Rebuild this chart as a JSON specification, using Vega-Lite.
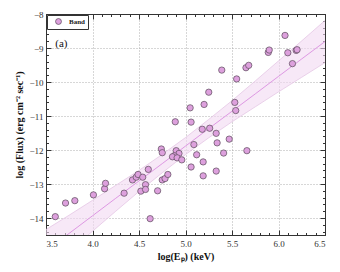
{
  "$schema": "https://vega.github.io/schema/vega-lite/v6.json",
  "width": 279,
  "height": 221,
  "autosize": {"type": "none"},
  "padding": {"left": 46, "top": 14, "right": 15, "bottom": 37},
  "config": {
    "view": {"stroke": "#333", "strokeWidth": 1},
    "font": "Liberation Serif",
    "axis": {
      "labelFont": "Liberation Serif",
      "titleFont": "Liberation Serif",
      "labelFontSize": 9,
      "titleFontSize": 10,
      "labelColor": "#333",
      "titleColor": "#111",
      "tickColor": "#333",
      "domainColor": "#333"
    }
  },
  "datasets": {
    "pts": [
      {"x": 3.60, "y": -13.96}, {"x": 3.71, "y": -13.56}, {"x": 3.81, "y": -13.49},
      {"x": 4.01, "y": -13.32}, {"x": 4.13, "y": -13.14}, {"x": 4.14, "y": -12.98},
      {"x": 4.34, "y": -13.27}, {"x": 4.43, "y": -12.88}, {"x": 4.47, "y": -12.80},
      {"x": 4.49, "y": -12.72}, {"x": 4.54, "y": -12.80}, {"x": 4.52, "y": -13.21},
      {"x": 4.57, "y": -13.02}, {"x": 4.57, "y": -13.16}, {"x": 4.60, "y": -12.57},
      {"x": 4.62, "y": -14.02}, {"x": 4.70, "y": -13.20}, {"x": 4.74, "y": -11.97},
      {"x": 4.75, "y": -12.08}, {"x": 4.75, "y": -12.88}, {"x": 4.78, "y": -12.84},
      {"x": 4.81, "y": -12.72}, {"x": 4.90, "y": -12.02}, {"x": 4.93, "y": -12.10},
      {"x": 4.88, "y": -12.17}, {"x": 4.86, "y": -12.20}, {"x": 4.91, "y": -12.23},
      {"x": 4.96, "y": -12.29}, {"x": 4.89, "y": -11.17}, {"x": 5.06, "y": -11.18},
      {"x": 5.18, "y": -11.39}, {"x": 5.26, "y": -11.36}, {"x": 5.33, "y": -11.51},
      {"x": 5.09, "y": -11.84}, {"x": 5.34, "y": -11.79}, {"x": 5.47, "y": -11.68},
      {"x": 5.12, "y": -12.14}, {"x": 5.41, "y": -12.09}, {"x": 5.66, "y": -12.02},
      {"x": 5.19, "y": -12.35}, {"x": 5.33, "y": -12.62}, {"x": 5.19, "y": -12.76},
      {"x": 5.06, "y": -12.50}, {"x": 5.05, "y": -10.76}, {"x": 5.20, "y": -10.66},
      {"x": 5.25, "y": -10.30}, {"x": 5.39, "y": -9.65}, {"x": 5.55, "y": -9.91},
      {"x": 5.53, "y": -10.60}, {"x": 5.54, "y": -10.84}, {"x": 5.65, "y": -9.58},
      {"x": 5.68, "y": -9.51}, {"x": 5.89, "y": -9.13}, {"x": 5.90, "y": -9.06},
      {"x": 6.07, "y": -8.63}, {"x": 6.10, "y": -9.14}, {"x": 6.19, "y": -9.07},
      {"x": 6.20, "y": -9.05}, {"x": 6.15, "y": -9.46}
    ],
    "fit": [
      {"x": 3.5, "y": -14.96, "lo": -15.58, "hi": -14.34},
      {"x": 3.75, "y": -14.45, "lo": -14.985, "hi": -13.915},
      {"x": 4.0, "y": -13.935, "lo": -14.39, "hi": -13.48},
      {"x": 4.25, "y": -13.42, "lo": -13.80, "hi": -13.04},
      {"x": 4.5, "y": -12.91, "lo": -13.22, "hi": -12.60},
      {"x": 4.75, "y": -12.40, "lo": -12.67, "hi": -12.13},
      {"x": 5.0, "y": -11.885, "lo": -12.135, "hi": -11.635},
      {"x": 5.25, "y": -11.37, "lo": -11.64, "hi": -11.10},
      {"x": 5.5, "y": -10.86, "lo": -11.17, "hi": -10.55},
      {"x": 5.75, "y": -10.35, "lo": -10.73, "hi": -9.97},
      {"x": 6.0, "y": -9.835, "lo": -10.29, "hi": -9.38},
      {"x": 6.25, "y": -9.32, "lo": -9.86, "hi": -8.79},
      {"x": 6.5, "y": -8.81, "lo": -9.43, "hi": -8.19}
    ]
  },
  "layer": [
    {
      "data": {"name": "fit"},
      "mark": {"type": "area", "color": "#f2d8f2", "opacity": 0.6, "clip": true},
      "encoding": {
        "x": {
          "field": "x", "type": "quantitative",
          "scale": {"domain": [3.5, 6.5], "nice": false, "zero": false},
          "axis": {
            "orient": "bottom", "values": [3.5, 4, 4.5, 5, 5.5, 6, 6.5], "format": ".1f",
            "tickSize": -5, "labelPadding": 9, "title": "log(Eₚ) (keV)", "titlePadding": 3,
            "grid": true, "gridDash": [1, 2], "gridColor": "#999", "gridWidth": 0.8
          }
        },
        "y": {
          "field": "lo", "type": "quantitative",
          "scale": {"domain": [-14.5, -8], "nice": false, "zero": false},
          "axis": {
            "orient": "left", "values": [-14, -13, -12, -11, -10, -9, -8], "format": ".0f",
            "tickSize": -5, "labelPadding": 8, "title": "log (Flux) (erg cm⁻² sec⁻¹)", "titlePadding": 4,
            "grid": true, "gridDash": [1, 2], "gridColor": "#999", "gridWidth": 0.8
          }
        },
        "y2": {"field": "hi"}
      }
    },
    {
      "data": {"name": "fit"},
      "mark": {"type": "line", "color": "#e4c6e4", "strokeWidth": 0.8, "clip": true},
      "encoding": {
        "x": {"field": "x", "type": "quantitative", "axis": null},
        "y": {"field": "lo", "type": "quantitative", "axis": null}
      }
    },
    {
      "data": {"name": "fit"},
      "mark": {"type": "line", "color": "#e4c6e4", "strokeWidth": 0.8, "clip": true},
      "encoding": {
        "x": {"field": "x", "type": "quantitative", "axis": null},
        "y": {"field": "hi", "type": "quantitative", "axis": null}
      }
    },
    {
      "data": {"name": "fit"},
      "mark": {"type": "line", "color": "#da8fe0", "strokeWidth": 0.9, "clip": true},
      "encoding": {
        "x": {"field": "x", "type": "quantitative", "axis": null},
        "y": {"field": "y", "type": "quantitative", "axis": null}
      }
    },
    {
      "data": {"name": "pts"},
      "mark": {"type": "point", "filled": true, "opacity": 1, "size": 40, "stroke": "#5a4a5a", "strokeWidth": 0.7},
      "encoding": {
        "x": {"field": "x", "type": "quantitative", "axis": null},
        "y": {"field": "y", "type": "quantitative", "axis": null},
        "color": {
          "datum": "Band",
          "scale": {"range": ["#dda0dd"]},
          "legend": {
            "orient": "top-left", "offset": 1, "title": null,
            "strokeColor": "#333", "fillColor": "white", "padding": 3, "cornerRadius": 0,
            "symbolSize": 35, "symbolStrokeColor": "#5a4a5a", "symbolStrokeWidth": 0.7,
            "symbolOffset": 5, "labelOffset": 7, "labelFontSize": 7, "labelFont": "Liberation Serif",
            "labelFontWeight": "bold", "labelColor": "#222", "symbolOpacity": 1
          }
        }
      }
    },
    {
      "data": {"name": "pts"},
      "mark": {"type": "point", "opacity": 0},
      "encoding": {
        "x": {"field": "x", "type": "quantitative", "axis": {"orient": "top", "values": [3.5, 4, 4.5, 5, 5.5, 6, 6.5], "labels": false, "tickSize": -5, "grid": false, "title": null}},
        "y": {"field": "y", "type": "quantitative", "axis": {"orient": "right", "values": [-14, -13, -12, -11, -10, -9, -8], "labels": false, "tickSize": -5, "grid": false, "title": null}}
      }
    },
    {
      "data": {"name": "pts"},
      "mark": {"type": "point", "opacity": 0},
      "encoding": {
        "x": {"field": "x", "type": "quantitative", "axis": {"orient": "bottom", "values": [3.6, 3.7, 3.8, 3.9, 4.1, 4.2, 4.3, 4.4, 4.6, 4.7, 4.8, 4.9, 5.1, 5.2, 5.3, 5.4, 5.6, 5.7, 5.8, 5.9, 6.1, 6.2, 6.3, 6.4], "labels": false, "tickSize": -2.5, "grid": false, "domain": false, "title": null}},
        "y": {"field": "y", "type": "quantitative", "axis": {"orient": "left", "values": [-14.4, -14.2, -13.8, -13.6, -13.4, -13.2, -12.8, -12.6, -12.4, -12.2, -11.8, -11.6, -11.4, -11.2, -10.8, -10.6, -10.4, -10.2, -9.8, -9.6, -9.4, -9.2, -8.8, -8.6, -8.4, -8.2], "labels": false, "tickSize": -2.5, "grid": false, "domain": false, "title": null}}
      }
    },
    {
      "data": {"name": "pts"},
      "mark": {"type": "point", "opacity": 0},
      "encoding": {
        "x": {"field": "x", "type": "quantitative", "axis": {"orient": "top", "values": [3.6, 3.7, 3.8, 3.9, 4.1, 4.2, 4.3, 4.4, 4.6, 4.7, 4.8, 4.9, 5.1, 5.2, 5.3, 5.4, 5.6, 5.7, 5.8, 5.9, 6.1, 6.2, 6.3, 6.4], "labels": false, "tickSize": -2.5, "grid": false, "domain": false, "title": null}},
        "y": {"field": "y", "type": "quantitative", "axis": {"orient": "right", "values": [-14.4, -14.2, -13.8, -13.6, -13.4, -13.2, -12.8, -12.6, -12.4, -12.2, -11.8, -11.6, -11.4, -11.2, -10.8, -10.6, -10.4, -10.2, -9.8, -9.6, -9.4, -9.2, -8.8, -8.6, -8.4, -8.2], "labels": false, "tickSize": -2.5, "grid": false, "domain": false, "title": null}}
      }
    },
    {
      "data": {"values": [{"label": "(a)"}]},
      "mark": {"type": "text", "align": "left", "baseline": "middle", "fontSize": 11, "font": "Liberation Serif", "color": "#111"},
      "encoding": {
        "text": {"field": "label"},
        "x": {"datum": 3.6, "type": "quantitative", "axis": null},
        "y": {"datum": -8.88, "type": "quantitative", "axis": null}
      }
    }
  ]
}
